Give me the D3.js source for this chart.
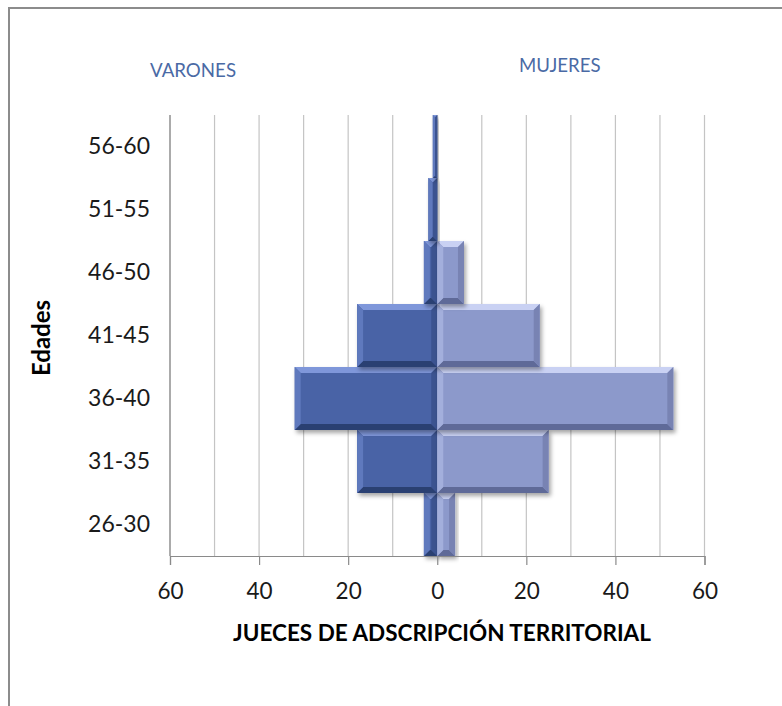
<!DOCTYPE html>
<html>
<head>
<meta charset="utf-8">
<script src="https://cdn.jsdelivr.net/npm/d3@7"></script>
<style>
  html, body { margin: 0; padding: 0; background: #fff; }
  svg { display: block; }
</style>
</head>
<body>
<svg id="chart" width="782" height="706"></svg>
<script>
// Age groups, bottom to top
const edades = ["26-30", "31-35", "36-40", "41-45", "46-50", "51-55", "56-60"];
// Judges per age group
const varones = [3, 18, 32, 18, 3, 2, 1];
const mujeres = [4, 25, 53, 23, 6, 0, 0];
// Axis ticks
const xTicks = [-60, -40, -20, 0, 20, 40, 60];
const gridValues = d3.range(-60, 61, 10);

const svg = d3.select("#chart");
const font = "Lato, 'Open Sans', sans-serif";

// Frame (top and left edges)
svg.append("path")
  .attr("d", "M9,706 L9,8 L782,8")
  .attr("fill", "none")
  .attr("stroke", "#8c8c8c")
  .attr("stroke-width", 2);

const plot = { left: 170, right: 704.5, top: 115, bottom: 556 };

const x = d3.scaleLinear().domain([-60, 60]).range([plot.left, plot.right]);
const y = d3.scaleBand().domain(edades.slice().reverse()).range([plot.top, plot.bottom]).padding(0);

// Drop shadow for the bars
const defs = svg.append("defs");
const f = defs.append("filter").attr("id", "shadow")
  .attr("x", "-20%").attr("y", "-20%").attr("width", "140%").attr("height", "160%");
f.append("feDropShadow").attr("dx", 2).attr("dy", 3).attr("stdDeviation", 2)
  .attr("flood-color", "#000").attr("flood-opacity", 0.35);

// Vertical gridlines
svg.append("g").selectAll("line").data(gridValues).join("line")
  .attr("x1", d => x(d)).attr("x2", d => x(d))
  .attr("y1", plot.top).attr("y2", plot.bottom)
  .attr("stroke", "#c4c4c4").attr("stroke-width", 1.2);

// Bevelled bar
const styles = {
  varones: { face: "#4a64a6", top: "#7f97da", left: "#5f79bd", bottom: "#2c3f72", right: "#3b5290" },
  mujeres: { face: "#8c99cb", top: "#c9d1f3", left: "#a3afdc", bottom: "#5f6a98", right: "#7883b3" }
};

function drawBar(g, x0, x1, y0, y1, s) {
  if (x1 - x0 <= 0) return;
  const b = Math.min(6, (x1 - x0) / 2, (y1 - y0) / 2);
  const bar = g.append("g").attr("filter", "url(#shadow)");
  bar.append("rect").attr("x", x0).attr("y", y0).attr("width", x1 - x0).attr("height", y1 - y0).attr("fill", s.face);
  const poly = (pts, c) => bar.append("polygon").attr("points", pts.map(p => p.join(",")).join(" ")).attr("fill", c);
  poly([[x0, y0], [x1, y0], [x1 - b, y0 + b], [x0 + b, y0 + b]], s.top);
  poly([[x0, y1], [x1, y1], [x1 - b, y1 - b], [x0 + b, y1 - b]], s.bottom);
  poly([[x0, y0], [x0 + b, y0 + b], [x0 + b, y1 - b], [x0, y1]], s.left);
  poly([[x1, y0], [x1 - b, y0 + b], [x1 - b, y1 - b], [x1, y1]], s.right);
}

const bars = svg.append("g");
edades.forEach((e, i) => {
  const y0 = y(e), y1 = y(e) + y.bandwidth();
  drawBar(bars, x(-varones[i]), x(0), y0, y1, styles.varones);
  drawBar(bars, x(0), x(mujeres[i]), y0, y1, styles.mujeres);
});

// Y axis line
svg.append("line")
  .attr("x1", plot.left).attr("x2", plot.left)
  .attr("y1", plot.top).attr("y2", plot.bottom)
  .attr("stroke", "#8a8a8a").attr("stroke-width", 1.2);

// X axis
const xAxis = d3.axisBottom(x).tickValues(xTicks).tickFormat(d => Math.abs(d)).tickSize(9).tickPadding(18);
const gx = svg.append("g").attr("transform", `translate(0,${plot.bottom})`).call(xAxis);
gx.select(".domain").attr("stroke", "#8a8a8a").attr("stroke-width", 1.2);
gx.selectAll(".tick line").attr("stroke", "#8a8a8a").attr("stroke-width", 1.2);
gx.selectAll(".tick text").attr("font-family", font).attr("font-size", 22.5).attr("fill", "#1a1a1a");

// Category labels
const yAxis = d3.axisLeft(y).tickSize(0).tickPadding(20);
const gy = svg.append("g").attr("transform", `translate(${plot.left},0)`).call(yAxis);
gy.select(".domain").remove();
gy.selectAll(".tick text").attr("font-family", font).attr("font-size", 23).attr("fill", "#1a1a1a");

// Axis titles
svg.append("text")
  .attr("transform", "translate(50,338) rotate(-90)")
  .attr("text-anchor", "middle")
  .attr("font-family", font).attr("font-weight", "bold").attr("font-size", 24)
  .attr("fill", "#000").text("Edades");

svg.append("text")
  .attr("x", 442).attr("y", 641)
  .attr("text-anchor", "middle")
  .attr("font-family", font).attr("font-weight", "bold").attr("font-size", 22.5)
  .attr("fill", "#000").text("JUECES DE ADSCRIPCIÓN TERRITORIAL");

// Series labels
svg.append("text")
  .attr("x", 150).attr("y", 77)
  .attr("font-family", font).attr("font-size", 18.7)
  .attr("fill", "#4a6aa5").text("VARONES");

svg.append("text")
  .attr("x", 519).attr("y", 72)
  .attr("font-family", font).attr("font-size", 18.6)
  .attr("fill", "#4a6aa5").text("MUJERES");
</script>
</body>
</html>
